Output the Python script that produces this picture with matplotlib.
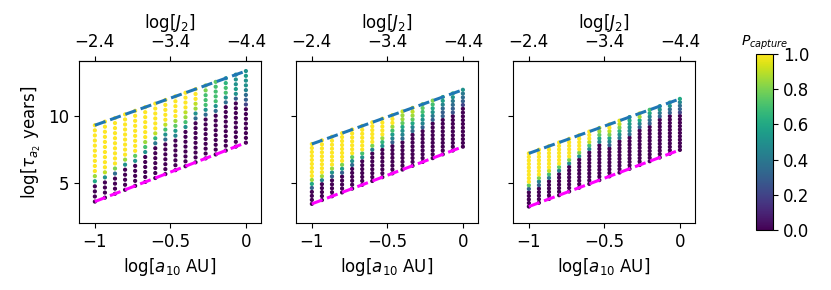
"""Capture probability across a10 / J2 grid, three panels with shared colourbar."""

import numpy as np
import matplotlib
matplotlib.use("Agg")
import matplotlib.pyplot as plt

# grid of semi-major axes (log a10 in AU), 16 columns of 16 points each
log_a = np.linspace(-1.0, 0.0, 16)
n_rows = 16

# upper / lower bounding lines per panel, values at log a = -1 and log a = 0
upper_ends = [(9.3, 13.35), (7.9, 11.95), (7.2, 11.27)]
lower_ends = [(3.6, 8.0), (3.43, 7.7), (3.23, 7.46)]

# capture probability per column, read bottom -> top:
# (number of P=0 points at the bottom, intermediate values), the rest are P=1
panel1_cols = [
    (4, [0.6, 0.85]),
    (4, [0.5, 0.9]),
    (4, [0.35, 0.8]),
    (5, [0.5, 0.85]),
    (5, [0.5, 0.75]),
    (6, [0.5, 0.7, 0.85]),
    (7, [0.4, 0.65, 0.9]),
    (7, [0.35, 0.5, 0.7, 0.9]),
    (7, [0.45, 0.55, 0.75, 0.85]),
    (8, [0.5, 0.7, 0.85, 0.9]),
    (9, [0.35, 0.5, 0.85, 0.9]),
    (9, [0.35, 0.5, 0.7, 0.7, 0.7, 0.8, 0.85]),
    (9, [0.35, 0.5, 0.7, 0.7, 0.7, 0.7, 0.75]),
    (10, [0.35, 0.5, 0.7, 0.7, 0.65, 0.6]),
    (10, [0.3, 0.5, 0.55, 0.5, 0.5, 0.55]),
    (8, [0.2, 0.3, 0.35, 0.45, 0.5, 0.5, 0.55, 0.5]),
]
panel2_cols = [
    (4, [0.3, 0.6, 0.85]),
    (5, [0.45, 0.85]),
    (5, [0.3, 0.5, 0.85]),
    (5, [0.3, 0.55, 0.8]),
    (6, [0.35, 0.5, 0.75]),
    (7, [0.5, 0.7]),
    (8, [0.45, 0.8]),
    (8, [0.5, 0.65, 0.85]),
    (8, [0.3, 0.45, 0.55, 0.7, 0.85]),
    (8, [0.35, 0.45, 0.5, 0.6, 0.75, 0.85, 0.85, 0.9]),
    (9, [0.35, 0.45, 0.6, 0.75, 0.85, 0.9, 0.95]),
    (9, [0.3, 0.45, 0.5, 0.6, 0.7, 0.75, 0.8]),
    (10, [0.3, 0.4, 0.5, 0.6, 0.7, 0.8]),
    (10, [0.3, 0.3, 0.35, 0.45, 0.55, 0.7]),
    (10, [0.25, 0.3, 0.35, 0.4, 0.5, 0.7]),
    (11, [0.2, 0.3, 0.35, 0.4, 0.5]),
]
panel3_cols = [
    (5, [0.3, 0.75]),
    (5, [0.3, 0.45, 0.8]),
    (6, [0.4, 0.7, 0.9]),
    (7, [0.45, 0.75]),
    (8, [0.5, 0.8]),
    (9, [0.5, 0.8]),
    (10, [0.45, 0.7, 0.9]),
    (11, [0.45, 0.6, 0.75, 0.85, 0.9]),
    (9, [0.3, 0.45, 0.6, 0.8, 0.9]),
    (10, [0.4, 0.5, 0.65, 0.8, 0.9, 0.95]),
    (10, [0.35, 0.45, 0.5, 0.55, 0.6, 0.55]),
    (11, [0.3, 0.45, 0.6, 0.85, 0.95]),
    (11, [0.3, 0.35, 0.45, 0.6, 0.7]),
    (12, [0.3, 0.4, 0.5, 0.6]),
    (12, [0.3, 0.35, 0.5, 0.7]),
    (11, [0.2, 0.3, 0.35, 0.45, 0.6]),
]
panels_cols = [panel1_cols, panel2_cols, panel3_cols]

a_ticks = [-1.0, -0.5, 0.0]
a_ticklabels = ["\u22121", "\u22120.5", "0"]
j2_ticklabels = ["\u22122.4", "\u22123.4", "\u22124.4"]
tau_ticks = [5, 10]
cbar_ticks = [0.0, 0.2, 0.4, 0.6, 0.8, 1.0]

FS = 12

fig = plt.figure(figsize=(8.31, 2.90), dpi=100)
plt.rcParams["font.size"] = FS

lefts = [79, 296, 513]
axes = []
sc = None
for i, cols in enumerate(panels_cols):
    ax = fig.add_axes([lefts[i] / 831, (290 - 223) / 290, 182 / 831, 162 / 290])
    axes.append(ax)
    (u0, u1), (l0, l1) = upper_ends[i], lower_ends[i]
    upper = u0 + (u1 - u0) * (log_a + 1.0)
    lower = l0 + (l1 - l0) * (log_a + 1.0)

    xs, ys, ps = [], [], []
    for j, (n_zero, mids) in enumerate(cols):
        vals = [0.0] * n_zero + list(mids)
        vals += [1.0] * (n_rows - len(vals))
        xs.extend([log_a[j]] * n_rows)
        ys.extend(np.linspace(lower[j], upper[j], n_rows))
        ps.extend(vals[:n_rows])

    sc = ax.scatter(xs, ys, c=ps, cmap="viridis", vmin=0, vmax=1, s=4,
                    zorder=2)
    ax.plot(log_a, upper, "--", color="#1f77b4", lw=2.2, zorder=3)
    ax.plot(log_a, lower, "--", color="magenta", lw=2.2, zorder=3)

    ax.set_xlim(-1.105, 0.1)
    ax.set_ylim(2.0, 14.1)
    ax.set_xticks(a_ticks)
    ax.set_xticklabels(a_ticklabels, fontsize=FS)
    ax.set_yticks(tau_ticks)
    if i == 0:
        ax.set_yticklabels([str(t) for t in tau_ticks], fontsize=FS)
        ax.set_ylabel(r"log[$\tau_{a_2}$ years]", fontsize=FS)
    else:
        ax.set_yticklabels([])
    ax.set_xlabel(r"log[$a_{10}$ AU]", fontsize=FS)

    top = ax.secondary_xaxis("top")
    top.set_xticks(a_ticks)
    top.set_xticklabels(j2_ticklabels, fontsize=FS)
    top.set_xlabel(r"log[$J_2$]", fontsize=FS)

cax = fig.add_axes([756 / 831, (290 - 230) / 290, 17 / 831, 176 / 290])
cbar = fig.colorbar(sc, cax=cax, ticks=cbar_ticks)
cbar.ax.set_yticklabels([f"{t:.1f}" for t in cbar_ticks], fontsize=FS)
cbar.ax.set_title(r"$P_{capture}$", fontsize=10)

fig.savefig("out.png", dpi=100)
